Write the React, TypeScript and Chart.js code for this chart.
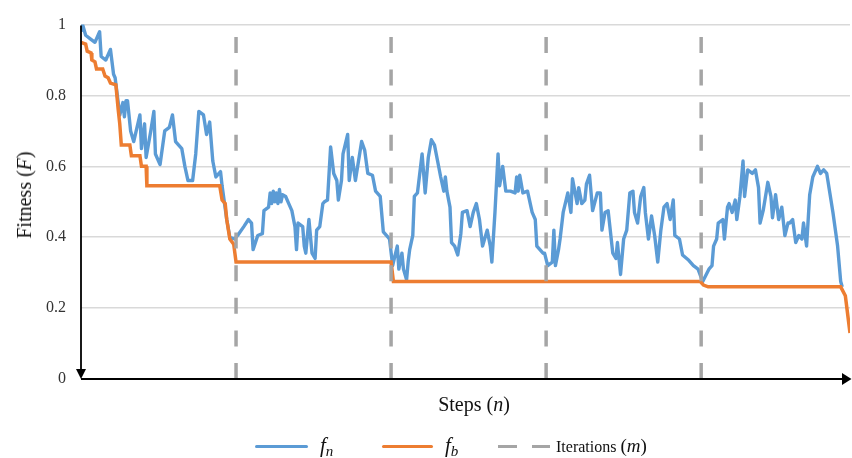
import React, { useEffect, useRef } from "react";
import { Chart, registerables } from "chart.js";

Chart.register(...registerables);

// ---- data -------------------------------------------------------------
const xMax = 496;
const iterationSteps = [100, 200, 300, 400];
const yTicks = [0, 0.2, 0.4, 0.6, 0.8, 1];

const fnSteps = [
  0, 1, 3, 6, 9, 12, 13, 16, 19, 21, 22, 25, 27, 28, 29, 30, 32, 34, 38, 39, 41, 42, 45, 47, 48, 51, 54, 57, 59, 61, 65, 67,
  69, 72, 74, 76, 79, 81, 83, 85, 87, 90, 91, 94, 96, 99,
  101, 105, 108, 110, 111, 114, 117, 118, 121, 122, 123, 124, 125, 126, 127, 128, 129, 130, 132, 134, 136, 138, 139, 140, 143, 144, 145, 147, 149,
  151, 152, 154, 156, 157, 159, 161, 163, 165, 166, 168, 169, 172, 173, 175, 177, 179, 181, 183, 185, 188, 190, 193,
  195, 198,
  199, 201, 204, 205, 207, 208, 210, 211, 212, 214, 215, 217, 220, 222, 224, 226, 228, 230, 232, 234, 235, 236, 238,
  239, 241, 243, 245, 246, 249, 251, 253, 255, 257, 259, 262, 264, 265, 267, 269, 270, 272, 274, 277, 280, 281, 282,
  283, 285, 288, 291, 293, 294, 298,
  299, 301, 304, 305, 306, 308, 309, 311, 314, 316, 317, 320, 321, 323, 325, 326, 328, 330, 333, 335, 336, 338, 340,
  343, 345, 346, 348, 350, 352, 354, 356, 357, 359, 361, 363, 364, 366, 368, 370, 372, 374, 376, 378, 380, 382, 383,
  386, 388, 392, 395, 398,
  401, 405, 407, 408, 410, 411, 414, 415, 417, 418, 420, 422, 423, 425, 427, 428, 430, 433, 435, 437, 438, 440, 443,
  445, 446, 448, 450, 452, 454, 456, 457, 459, 461, 463, 465, 466, 468, 470, 472, 475, 477, 479, 481, 483, 485, 488,
  490, 491,
];
const fnValues = [
  0.98, 1.0, 0.97, 0.96, 0.95, 0.98, 0.91, 0.9, 0.93, 0.86, 0.85, 0.745, 0.78, 0.74, 0.785, 0.785, 0.7, 0.67, 0.745, 0.65, 0.72,
  0.625, 0.7, 0.755, 0.635, 0.605, 0.7, 0.71, 0.745, 0.67, 0.65, 0.6, 0.56, 0.56, 0.635, 0.755, 0.745, 0.69, 0.725,
  0.615, 0.57, 0.585, 0.545, 0.45, 0.4, 0.395,
  0.405, 0.43, 0.45, 0.44, 0.365, 0.405, 0.41, 0.475, 0.485, 0.525, 0.495, 0.53, 0.5, 0.525, 0.495, 0.535, 0.5, 0.52, 0.515, 0.495, 0.475, 0.43, 0.365,
  0.44, 0.43, 0.375, 0.355, 0.45, 0.355, 0.34, 0.42, 0.43, 0.495, 0.5, 0.505, 0.655, 0.58, 0.56, 0.505, 0.56, 0.635,
  0.69, 0.56, 0.625, 0.56, 0.615, 0.67, 0.645, 0.58, 0.575, 0.53, 0.515, 0.415, 0.4,
  0.395, 0.32, 0.375, 0.31, 0.355, 0.31, 0.28, 0.33, 0.365, 0.405, 0.515, 0.525, 0.635, 0.525, 0.625, 0.675, 0.66,
  0.615, 0.57, 0.53, 0.57, 0.53, 0.485, 0.385, 0.375, 0.35, 0.41, 0.47, 0.475, 0.43, 0.47, 0.495, 0.45, 0.375, 0.42,
  0.375, 0.33, 0.47, 0.635, 0.545, 0.6, 0.53, 0.53, 0.525, 0.57, 0.53, 0.575, 0.525, 0.53, 0.47, 0.45, 0.375, 0.355,
  0.355, 0.32, 0.33, 0.42, 0.32, 0.365, 0.395, 0.47, 0.525, 0.47, 0.565, 0.495, 0.54, 0.495, 0.505, 0.55, 0.575,
  0.475, 0.525, 0.525, 0.42, 0.47, 0.475, 0.355, 0.34, 0.385, 0.295, 0.395, 0.42, 0.525, 0.53, 0.47, 0.44, 0.515,
  0.54, 0.47, 0.395, 0.46, 0.405, 0.33, 0.42, 0.485, 0.495, 0.45, 0.505, 0.405, 0.395, 0.35, 0.335, 0.32, 0.31,
  0.275, 0.31, 0.32, 0.375, 0.395, 0.44, 0.45, 0.395, 0.485, 0.495, 0.47, 0.505, 0.45, 0.515, 0.615, 0.515, 0.59,
  0.58, 0.59, 0.54, 0.44, 0.475, 0.555, 0.515, 0.455, 0.52, 0.45, 0.485, 0.405, 0.44, 0.44, 0.45, 0.385, 0.405,
  0.395, 0.44, 0.375, 0.52, 0.57, 0.6, 0.58, 0.59, 0.58, 0.525, 0.47, 0.375, 0.275, 0.26,
];

const fbSteps = [
  0, 3, 4, 6.5, 7, 9, 10, 14, 15.5, 17.5, 19, 22.5, 24, 25, 26, 31.5, 32.5, 38, 39, 42, 42.5, 89.5, 91, 93, 94, 96,
  98.5, 100, 200, 201.5, 399.5, 401.5, 404.5, 490, 493, 496,
];
const fbValues = [
  0.95, 0.945, 0.925, 0.92, 0.9, 0.895, 0.875, 0.875, 0.855, 0.85, 0.835, 0.83, 0.76, 0.72, 0.66, 0.66, 0.63, 0.63,
  0.6, 0.6, 0.545, 0.545, 0.505, 0.495, 0.45, 0.395, 0.38, 0.33, 0.33, 0.275, 0.275, 0.265, 0.26, 0.26, 0.235, 0.13,
];

const BLUE = "#5B9BD5";
const ORANGE = "#ED7D31";
const GRAY = "#A5A5A5";

// ---- plugin: axes with arrow heads ----------------------------------
const axisArrows = {
  id: "axisArrows",
  afterDraw(chart: any) {
    const { ctx, chartArea } = chart;
    const { left, right, top, bottom } = chartArea;
    ctx.save();
    ctx.fillStyle = "#000";
    ctx.strokeStyle = "#000";
    ctx.lineWidth = 2;
    ctx.beginPath();
    ctx.moveTo(left, bottom);
    ctx.lineTo(right - 4, bottom);
    ctx.stroke();
    ctx.beginPath();
    ctx.moveTo(right + 1.5, bottom);
    ctx.lineTo(right - 8, bottom - 6);
    ctx.lineTo(right - 8, bottom + 6);
    ctx.closePath();
    ctx.fill();
    ctx.lineWidth = 1.8;
    ctx.beginPath();
    ctx.moveTo(left, top + 1);
    ctx.lineTo(left, bottom - 6);
    ctx.stroke();
    ctx.beginPath();
    ctx.moveTo(left, bottom);
    ctx.lineTo(left - 5, bottom - 10);
    ctx.lineTo(left + 5, bottom - 10);
    ctx.closePath();
    ctx.fill();
    ctx.restore();
  },
};

export default function App() {
  const ref = useRef<HTMLCanvasElement>(null);

  useEffect(() => {
    const fnData = fnSteps.map((s, i) => ({ x: s, y: fnValues[i] }));
    const fbData = fbSteps.map((s, i) => ({ x: s, y: fbValues[i] }));
    const iterSets = iterationSteps.map((s) => ({
      label: "Iterations (m)",
      data: [
        { x: s, y: 0 },
        { x: s, y: 1 },
      ],
      borderColor: GRAY,
      borderWidth: 3.5,
      borderDash: [16, 16.6],
      borderCapStyle: "butt",
      pointRadius: 0,
      order: 0,
    }));

    const chart = new Chart(ref.current as HTMLCanvasElement, {
      type: "line",
      data: {
        datasets: [
          {
            label: "fn",
            data: fnData,
            borderColor: BLUE,
            borderWidth: 3.4,
            borderJoinStyle: "round",
            pointRadius: 0,
            tension: 0,
            order: 2,
          },
          {
            label: "fb",
            data: fbData,
            borderColor: ORANGE,
            borderWidth: 3.5,
            pointRadius: 0,
            tension: 0,
            order: 1,
          },
          ...iterSets,
        ] as any,
      },
      options: {
        animation: false,
        responsive: false,
        maintainAspectRatio: false,
        layout: { padding: { left: 0, right: 2, top: 18, bottom: 79 } },
        plugins: { legend: { display: false }, tooltip: { enabled: false } },
        scales: {
          x: { type: "linear", min: 0, max: xMax, display: false },
          y: {
            type: "linear",
            min: 0,
            max: 1,
            afterFit: (s: any) => {
              s.width = 81;
            },
            afterBuildTicks: (s: any) => {
              s.ticks = yTicks.map((v) => ({ value: v }));
            },
            ticks: {
              padding: 15,
              color: "#333",
              font: { family: '"Liberation Serif", serif', size: 16 },
              callback: (v: any) => String(Number(Number(v).toFixed(1))),
            },
            grid: { color: "#D9D9D9", lineWidth: 1.5, drawTicks: false },
            border: { display: false },
          },
        },
      } as any,
      plugins: [axisArrows],
    });
    return () => chart.destroy();
  }, []);

  const serif = '"Liberation Serif", "Times New Roman", serif';
  return (
    <div
      style={{
        position: "fixed",
        left: 0,
        top: 0,
        width: 852,
        height: 458,
        background: "#fff",
        fontFamily: serif,
        color: "#111",
        overflow: "hidden",
      }}
    >
      <canvas
        ref={ref}
        width={852}
        height={458}
        style={{ position: "absolute", left: 0, top: 0, width: 852, height: 458 }}
      />
      <div
        style={{
          position: "absolute",
          left: 24,
          top: 195,
          transform: "translate(-50%, -50%) rotate(-90deg)",
          whiteSpace: "nowrap",
          fontSize: 20,
          lineHeight: "20px",
        }}
      >
        Fitness (<i>F</i>)
      </div>
      <div
        style={{
          position: "absolute",
          left: 474,
          top: 404,
          transform: "translate(-50%, -50%)",
          whiteSpace: "nowrap",
          fontSize: 20,
          lineHeight: "20px",
        }}
      >
        Steps (<i>n</i>)
      </div>
      <div style={{ position: "absolute", left: 255, top: 444.5, width: 53, height: 3.5, background: BLUE, borderRadius: 2 }} />
      <div style={{ position: "absolute", left: 320, top: 435, fontSize: 21, lineHeight: "20px", whiteSpace: "nowrap" }}>
        <i>f</i>
        <span style={{ fontSize: 15, position: "relative", top: 4, fontStyle: "italic" }}>n</span>
      </div>
      <div style={{ position: "absolute", left: 382, top: 444.5, width: 51, height: 3.5, background: ORANGE, borderRadius: 2 }} />
      <div style={{ position: "absolute", left: 445, top: 435, fontSize: 21, lineHeight: "20px", whiteSpace: "nowrap" }}>
        <i>f</i>
        <span style={{ fontSize: 15, position: "relative", top: 4, fontStyle: "italic" }}>b</span>
      </div>
      <div style={{ position: "absolute", left: 498, top: 444.5, width: 19, height: 3.5, background: GRAY }} />
      <div style={{ position: "absolute", left: 532, top: 444.5, width: 18, height: 3.5, background: GRAY }} />
      <div style={{ position: "absolute", left: 556, top: 437, fontSize: 16, lineHeight: "18px", whiteSpace: "nowrap" }}>
        Iterations <span style={{ fontSize: 19 }}>(</span>
        <i style={{ fontSize: 19 }}>m</i>
        <span style={{ fontSize: 19 }}>)</span>
      </div>
    </div>
  );
}
